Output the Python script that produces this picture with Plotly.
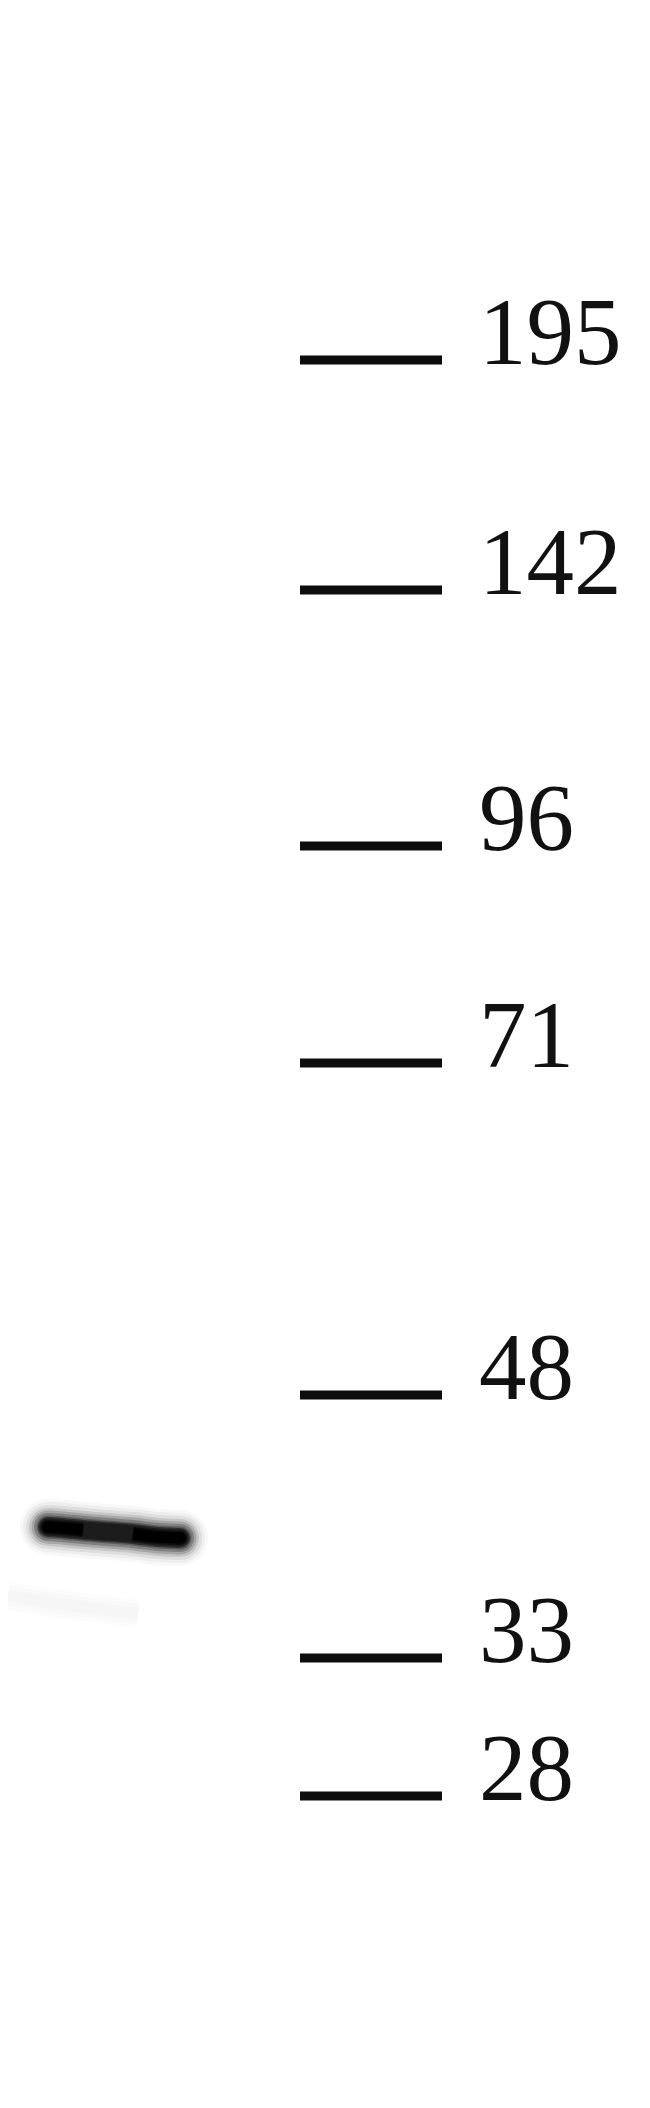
import plotly.graph_objects as go

# ladder (kDa) and where each marker sits on the blot, in image pixels
ladder_labels = ["195", "142", "96", "71", "48", "33", "28"]
ladder_y = [352, 582, 838, 1055, 1387, 1650, 1788]
ladder_x = [292, 434]
label_x = 469

# the single band in the sample lane
band_x = [40, 55, 75, 100, 125, 150, 172]
band_y = [1519, 1520, 1522, 1524, 1526, 1529, 1530]
# faint smear just under the band
smear_x = [0, 60, 130]
smear_y = [1588, 1597, 1606]

W, H = 650, 2108

fig = go.Figure()

def stroke(x, y, w, c, caps=(0, -1)):
    fig.add_trace(go.Scatter(x=x, y=y, mode="lines", line=dict(color=c, width=w, shape="spline"),
                             hoverinfo="skip", showlegend=False))
    if caps:
        fig.add_trace(go.Scatter(x=[x[i] for i in caps], y=[y[i] for i in caps], mode="markers",
                                 marker=dict(color=c, size=w, line=dict(width=0)),
                                 hoverinfo="skip", showlegend=False))

for w, c in [(28, "#fcfcfc"), (20, "#f9f9f9"), (12, "#f6f6f6")]:
    stroke(smear_x, smear_y, w, c, caps=())

# blurred band: wide pale strokes underneath, narrow dark ones on top
glow = [(56, "#f8f8f8"), (50, "#eeeeee"), (44, "#dedede"), (38, "#c6c6c6"),
        (33, "#a6a6a6"), (28, "#808080"), (23, "#5c5c5c"), (18, "#383838"), (13, "#222222")]
for w, c in glow:
    stroke(band_x, band_y, w, c)

# the two ends of the band are darker than its middle (rounded only on the outside)
left_x, left_y = band_x[:4], band_y[:4]
right_x, right_y = band_x[-4:], band_y[-4:]
for w, c in [(20, "#303030"), (17, "#1c1c1c"), (14, "#0c0c0c"), (11, "#000000")]:
    stroke(left_x[:3 if w < 17 else 4], left_y[:3 if w < 17 else 4], w, c, caps=(0,))
    stroke(right_x[1 if w < 17 else 0:], right_y[1 if w < 17 else 0:], w, c, caps=(-1,))

# marker ticks
xs, ys = [], []
for y in ladder_y:
    xs += [ladder_x[0], ladder_x[1], None]
    ys += [y, y, None]
fig.add_trace(go.Scatter(x=xs, y=ys, mode="lines", line=dict(color="#0d0d0d", width=9),
                         hoverinfo="skip", showlegend=False))

for lab, y in zip(ladder_labels, ladder_y):
    fig.add_annotation(x=label_x, y=y, text=lab, showarrow=False, xanchor="left", yanchor="middle",
                       yshift=28, font=dict(family="Liberation Serif", size=95, color="#111111"))

fig.update_xaxes(range=[0, W], visible=False, fixedrange=True)
fig.update_yaxes(range=[H, 0], visible=False, fixedrange=True)
fig.update_layout(width=W, height=H, margin=dict(l=0, r=0, t=0, b=0),
                  paper_bgcolor="#ffffff", plot_bgcolor="#ffffff", showlegend=False)

fig.write_html("out.html", config={"displayModeBar": False})
